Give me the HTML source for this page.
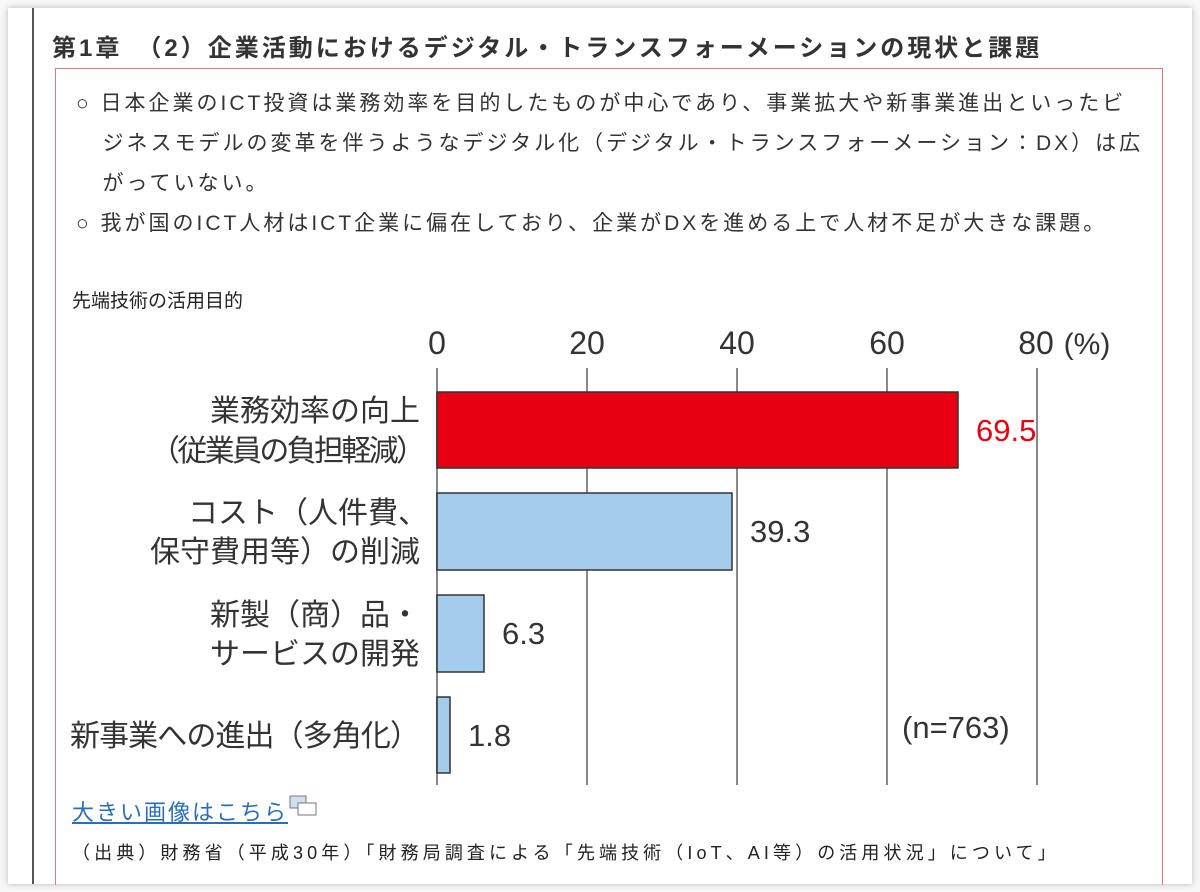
<!DOCTYPE html>
<html><head><meta charset="utf-8"><style>
body{margin:0;width:1200px;height:892px;background:#f7f7f7;font-family:"Liberation Sans","Noto Sans CJK JP",sans-serif;position:relative;overflow:hidden}
.card{position:absolute;left:8px;top:8px;width:1184px;height:876px;background:#fff;box-shadow:0 0 6px rgba(0,0,0,.25)}
.vl{position:absolute;left:32px;top:8px;width:2px;height:876px;background:#555}
.pink{position:absolute;left:55px;top:68px;width:1106px;height:816px;border:1px solid #d97a88;border-bottom:none}
.t{position:absolute;white-space:nowrap;color:#222}
</style></head><body>
<div class="card"></div><div class="pink"></div><div class="vl"></div>
<div class="t" style="left:52px;top:28px;font-size:24px;letter-spacing:3px;font-weight:bold;color:#333">第1章　（2）企業活動におけるデジタル・トランスフォーメーションの現状と課題</div>
<div class="t" style="left:76px;top:84px;font-size:21px;letter-spacing:3px;line-height:40px;color:#333">○ 日本企業のICT投資は業務効率を目的したものが中心であり、事業拡大や新事業進出といったビ<br>&nbsp;&nbsp;&nbsp;ジネスモデルの変革を伴うようなデジタル化（デジタル・トランスフォーメーション：DX）は広<br>&nbsp;&nbsp;&nbsp;がっていない。<br>○ 我が国のICT人材はICT企業に偏在しており、企業がDXを進める上で人材不足が大きな課題。</div>
<div class="t" style="left:72px;top:286px;font-size:19px">先端技術の活用目的</div>
<svg style="position:absolute;left:0;top:0" width="1200" height="892">
<g stroke="#888" stroke-width="2"><line x1="437" y1="368" x2="437" y2="785"/><line x1="587" y1="368" x2="587" y2="785"/><line x1="737" y1="368" x2="737" y2="785"/><line x1="887" y1="368" x2="887" y2="785"/><line x1="1037" y1="368" x2="1037" y2="785"/></g>
<g font-family="Liberation Sans,Noto Sans CJK JP,sans-serif" font-size="32" fill="#333" text-anchor="middle"><text x="437" y="354">0</text><text x="587" y="354">20</text><text x="737" y="354">40</text><text x="887" y="354">60</text><text x="1036" y="354">80</text><text x="1087" y="354" font-size="30">(%)</text></g>
<g stroke="#333" stroke-width="1.5">
<rect x="437" y="392" width="521" height="76" fill="#e60012"/>
<rect x="437" y="493" width="295" height="77" fill="#a3cbea"/>
<rect x="437" y="595" width="47" height="77" fill="#a3cbea"/>
<rect x="437" y="697" width="13" height="76" fill="#a3cbea"/></g>
<g font-family="Liberation Sans,Noto Sans CJK JP,sans-serif" font-size="31" fill="#333">
<text x="976" y="441" fill="#e60012">69.5</text><text x="750" y="542">39.3</text><text x="502" y="644">6.3</text><text x="468" y="746">1.8</text><text x="902" y="738">(n=763)</text></g>
<g font-family="Liberation Sans,Noto Sans CJK JP,sans-serif" font-size="30" fill="#333" text-anchor="end">
<text x="420" y="421">業務効率の向上</text><text x="426" y="461" textLength="276">（従業員の負担軽減）</text>
<text x="428" y="523">コスト（人件費、</text><text x="420" y="562">保守費用等）の削減</text>
<text x="420" y="625">新製（商）品・</text><text x="420" y="664">サービスの開発</text>
<text x="420" y="746" textLength="350">新事業への進出（多角化）</text></g>
<rect x="290" y="796" width="16" height="12" fill="#cfe0f0" stroke="#777"/><rect x="298" y="803" width="18" height="12" fill="#fff" stroke="#777"/>
</svg>
<div class="t" style="left:72px;top:795px;font-size:22px;letter-spacing:2px;color:#2a6ebb;text-decoration:underline">大きい画像はこちら</div>
<div class="t" style="left:72px;top:839px;font-size:18px;letter-spacing:4.1px">（出典）財務省（平成30年）「財務局調査による「先端技術（IoT、AI等）の活用状況」について」</div>
</body></html>
